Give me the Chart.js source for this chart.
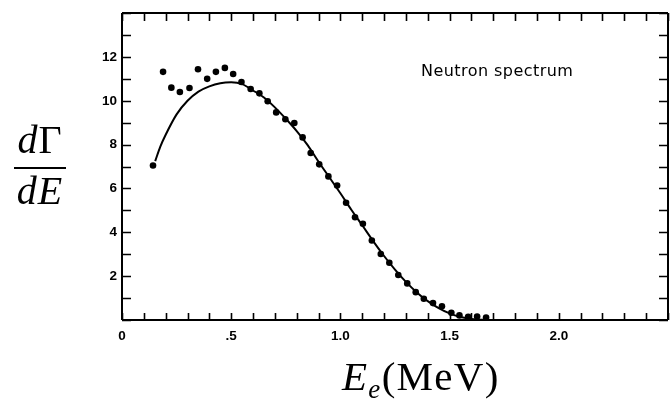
<!DOCTYPE html>
<html>
<head>
<meta charset="utf-8">
<script src="https://cdn.jsdelivr.net/npm/chart.js@4"></script>
<style>
  html, body { margin: 0; padding: 0; background: #fff; overflow: hidden; width: 670px; height: 401px; }
  #wrap { position: relative; width: 676px; height: 401px; }
  canvas { position: absolute; left: 0; top: 0; }
  .t { position: absolute; white-space: nowrap; color: #000; line-height: 1; }
  .serif { font-family: "Liberation Serif", "DejaVu Serif", serif; font-size: 40px; }
  .it { font-style: italic; }
  .sub { font-size: 27px; font-style: italic; position: relative; top: 8px; }
</style>
</head>
<body>
<div id="wrap">
  <canvas id="c" width="676" height="401"></canvas>
  <div class="t serif" style="left:15px; top:120px; width:50px; text-align:center; letter-spacing:1px;"><span class="it">d</span>Γ</div>
  <div style="position:absolute; left:14px; top:167px; width:52px; height:2px; background:#000;"></div>
  <div class="t serif" style="left:13px; top:171px; width:54px; text-align:center; letter-spacing:1px;"><span class="it">dE</span></div>
  <div class="t serif" style="left:342px; top:356px; font-size:41px; letter-spacing:1.3px;"><span class="it">E</span><span class="sub">e</span>(MeV)</div>
  <div class="t" style="left:421px; top:63px; font-family:'DejaVu Sans', sans-serif; font-size:16px; letter-spacing:0.45px;">Neutron spectrum</div>
</div>
<script>
// Experimental points (electron energy in MeV, dΓ/dE)
const expEnergy = [0.142, 0.188, 0.226, 0.265, 0.309, 0.348, 0.39, 0.43, 0.471, 0.509, 0.547, 0.589, 0.629, 0.667, 0.706, 0.748, 0.789, 0.827, 0.864, 0.903, 0.945, 0.985, 1.026, 1.067, 1.103, 1.144, 1.185, 1.224, 1.265, 1.306, 1.345, 1.382, 1.424, 1.465, 1.508, 1.545, 1.585, 1.626, 1.667];
const expRate = [7.05, 11.32, 10.60, 10.40, 10.58, 11.44, 11.0, 11.32, 11.5, 11.22, 10.86, 10.54, 10.34, 9.98, 9.47, 9.16, 8.99, 8.33, 7.62, 7.10, 6.55, 6.13, 5.35, 4.69, 4.39, 3.63, 3.01, 2.61, 2.05, 1.67, 1.27, 0.97, 0.77, 0.63, 0.33, 0.21, 0.15, 0.16, 0.11];

// Theoretical curve
const fitEnergy = [0.152, 0.175, 0.2, 0.25, 0.3, 0.35, 0.4, 0.45, 0.5, 0.55, 0.6, 0.65, 0.7, 0.75, 0.8, 0.85, 0.9, 0.95, 1.0, 1.05, 1.1, 1.15, 1.2, 1.25, 1.3, 1.35, 1.4, 1.45, 1.5, 1.55, 1.6, 1.65, 1.7];
const fitRate = [7.25, 7.9, 8.45, 9.38, 10.0, 10.42, 10.66, 10.8, 10.84, 10.76, 10.47, 10.15, 9.7, 9.18, 8.62, 7.98, 7.22, 6.5, 5.78, 5.03, 4.32, 3.6, 2.92, 2.3, 1.74, 1.26, 0.86, 0.54, 0.3, 0.14, 0.05, 0.01, 0];

// Tick labels
const xTickLabels = { 0: "0", 5: ".5", 10: "1.0", 15: "1.5", 20: "2.0" };
const yTickLabels = [2, 4, 6, 8, 10, 12];

const frameTicks = {
  id: 'frameTicks',
  afterDraw(chart) {
    const ctx = chart.ctx;
    const a = chart.chartArea;
    const xs = chart.scales.x, ys = chart.scales.y;
    ctx.save();
    ctx.strokeStyle = '#000';
    ctx.lineWidth = 2;
    ctx.beginPath();
    ctx.moveTo(a.left, a.top); ctx.lineTo(a.right, a.top);
    ctx.moveTo(a.left, a.bottom); ctx.lineTo(a.right, a.bottom);
    ctx.moveTo(a.left, a.top); ctx.lineTo(a.left, a.bottom);
    ctx.moveTo(a.right, a.top); ctx.lineTo(a.right, a.bottom);
    ctx.stroke();
    ctx.lineWidth = 1.6;
    ctx.beginPath();
    xs.ticks.forEach(t => {
      const px = Math.round(xs.getPixelForValue(t.value)) + 0.5;
      ctx.moveTo(px, a.bottom); ctx.lineTo(px, a.bottom - 7);
      ctx.moveTo(px, a.top); ctx.lineTo(px, a.top + 8);
    });
    ys.ticks.forEach(t => {
      const py = Math.round(ys.getPixelForValue(t.value)) + 0.5;
      ctx.moveTo(a.left, py); ctx.lineTo(a.left + 9, py);
      ctx.moveTo(a.right, py); ctx.lineTo(a.right - 9, py);
    });
    ctx.stroke();
    ctx.restore();
  }
};

new Chart(document.getElementById('c'), {
  type: 'scatter',
  data: {
    datasets: [
      {
        type: 'line',
        data: fitEnergy.map((e, i) => ({ x: e, y: fitRate[i] })),
        borderColor: '#000',
        borderWidth: 2,
        pointRadius: 0,
        fill: false,
        cubicInterpolationMode: 'monotone'
      },
      {
        data: expEnergy.map((e, i) => ({ x: e, y: expRate[i] })),
        backgroundColor: '#000',
        borderColor: '#000',
        pointRadius: 3.3,
        borderWidth: 0
      }
    ]
  },
  options: {
    responsive: false,
    animation: false,
    devicePixelRatio: 1,
    layout: { padding: { left: 0, top: 13, right: 4, bottom: 0 } },
    plugins: { legend: { display: false }, tooltip: { enabled: false } },
    scales: {
      x: {
        type: 'linear',
        min: 0, max: 2.5,
        grid: { display: false, drawTicks: false },
        border: { display: false },
        afterFit: s => { s.height = 81; },
        ticks: {
          stepSize: 0.1,
          autoSkip: false,
          maxRotation: 0,
          padding: 8,
          color: '#000',
          font: { family: 'Liberation Sans', size: 13.5, weight: 'bold' },
          callback: v => { const k = Math.round(v * 10); return xTickLabels[k] !== undefined && Math.abs(v * 10 - k) < 1e-6 ? xTickLabels[k] : ''; }
        }
      },
      y: {
        type: 'linear',
        min: 0, max: 14,
        grid: { display: false, drawTicks: false },
        border: { display: false },
        afterFit: s => { s.width = 122; },
        ticks: {
          stepSize: 1,
          autoSkip: false,
          padding: 5,
          color: '#000',
          font: { family: 'Liberation Sans', size: 13.5, weight: 'bold' },
          callback: v => yTickLabels.includes(v) ? String(v) : ''
        }
      }
    }
  },
  plugins: [frameTicks]
});
</script>
</body>
</html>
